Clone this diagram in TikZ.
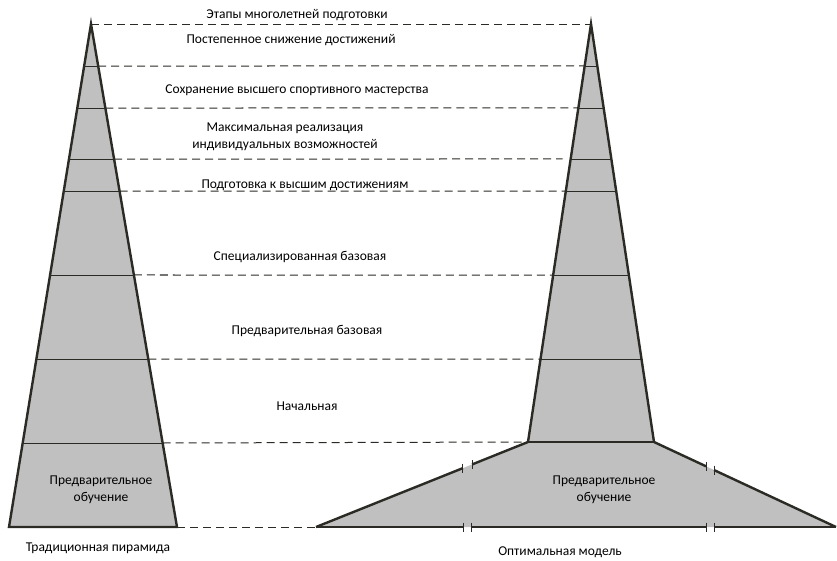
\documentclass[tikz,border=0pt]{standalone}
\usepackage{fontspec}
\setmainfont{Carlito}
\usetikzlibrary{calc}
\definecolor{pyr}{HTML}{C0C0C0}
\definecolor{edge}{HTML}{2B2A25}
\begin{document}
\begin{tikzpicture}[
    x=1pt, y=-1pt,
    stage/.style={font=\fontsize{13.5}{17}\selectfont, inner sep=0pt, align=center, text=black},
    outline/.style={draw=edge, line width=2.4pt, line join=miter, line cap=butt},
    rung/.style={draw=edge, line width=0.8pt},
    guide/.style={draw=edge, line width=1pt, dash pattern=on 8pt off 5pt},
    tick/.style={draw=edge, line width=0.9pt}
]
\useasboundingbox (0,0) rectangle (837,560);

% Traditional pyramid
\coordinate (LA) at (91,24);
\coordinate (LL) at (9,527);
\coordinate (LR) at (177,527);

% Optimal model
\coordinate (RA) at (591,24);
\coordinate (RL) at (528,442);
\coordinate (RR) at (654,442);
\coordinate (FL) at (316,527);
\coordinate (FR) at (836,527);

\fill[pyr] (LA) -- (LR) -- (LL) -- cycle;
\fill[pyr] (RA) -- (RR) -- (FR) -- (FL) -- (RL) -- cycle;

% Levels
\foreach \n/\y in {1/66,2/108,3/159,4/191,5/275,6/359,7/443} {
    \coordinate (Ll-\n) at ($(LA)!{(\y-24)/503}!(LL)$);
    \coordinate (Lr-\n) at ($(LA)!{(\y-24)/503}!(LR)$);
    \coordinate (Rl-\n) at ($(RA)!{(\y-24)/418}!(RL)$);
    \coordinate (Rr-\n) at ($(RA)!{(\y-24)/418}!(RR)$);
}

% Rungs
\foreach \n in {1,...,7}
    \draw[rung] (Ll-\n) -- (Lr-\n);
\foreach \n in {1,...,6}
    \draw[rung] (Rl-\n) -- (Rr-\n);

% Connections
\draw[guide] (LA) -- (RA);
\foreach \n in {1,2,4,5,6}
    \draw[guide] (Lr-\n) -- (Rl-\n);
\draw[guide, shorten >=8pt] (Lr-3) -- (Rl-3);
\draw[guide] (Lr-7) -- (RL);
\draw[guide] (LR) -- (FL);

% Breaks
\coordinate (BL1) at ($(FL)!0.693!(RL)$);
\coordinate (BL2) at ($(FL)!0.736!(RL)$);
\coordinate (BR1) at ($(RR)!0.286!(FR)$);
\coordinate (BR2) at ($(RR)!0.330!(FR)$);
\coordinate (BB1) at (463,527);
\coordinate (BB2) at (471,527);
\coordinate (BB3) at (706,527);
\coordinate (BB4) at (714,527);

% Outlines
\draw[outline] (LA) -- (LR) -- (LL) -- cycle;
\draw[outline] (RL) -- (RA) -- (RR);
\draw[outline] (RL) -- (RR);
\draw[outline] (RL) -- (BL2);
\draw[outline] (BL1) -- (FL);
\draw[outline] (RR) -- (BR1);
\draw[outline] (BR2) -- (FR);
\draw[outline] (FL) -- (BB1);
\draw[outline] (BB2) -- (BB3);
\draw[outline] (BB4) -- (FR);
\foreach \p in {BL1,BL2,BR1,BR2,BB1,BB2,BB3,BB4}
    \draw[tick] (\p) ++(0,-4.5) -- ++(0,9);

% Labels
\node[stage] (title) at (297,15) {Этапы многолетней подготовки};
\node[stage] (s1) at (291,40) {Постепенное снижение достижений};
\node[stage] (s2) at (297,90) {Сохранение высшего спортивного мастерства};
\node[stage] (s3) at (285,137) {Максимальная реализация\\индивидуальных возможностей};
\node[stage] (s4) at (305,185) {Подготовка к высшим достижениям};
\node[stage] (s5) at (300,257) {Специализированная базовая};
\node[stage] (s6) at (307,331) {Предварительная базовая};
\node[stage] (s7) at (307,406) {Начальная};
\node[stage] (s8) at (101,490) {Предварительное\\обучение};
\node[stage] (s9) at (604,490) {Предварительное\\обучение};
\node[stage] (trad) at (98,548) {Традиционная пирамида};
\node[stage] (opt) at (560,552) {Оптимальная модель};

\end{tikzpicture}
\end{document}
